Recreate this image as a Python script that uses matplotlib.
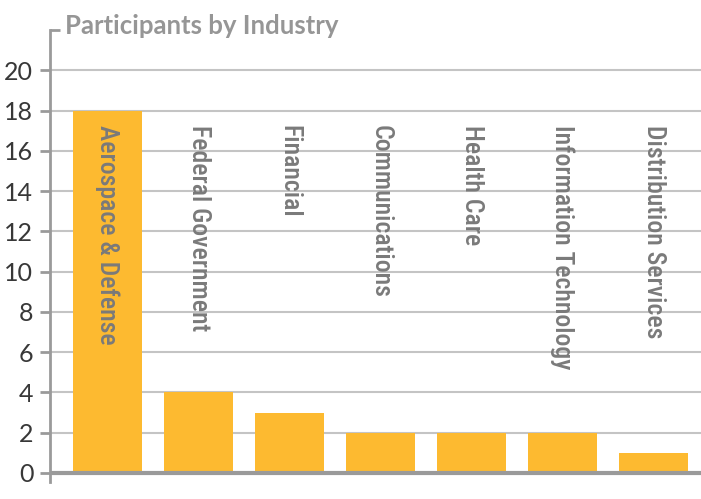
import matplotlib
matplotlib.use("Agg")
import matplotlib.pyplot as plt
from matplotlib import font_manager

industries = ["Aerospace & Defense", "Federal Government", "Financial",
              "Communications", "Health Care", "Information Technology",
              "Distribution Services"]
participants = [18, 4, 3, 2, 2, 2, 1]
y_ticks = [0, 2, 4, 6, 8, 10, 12, 14, 16, 18, 20]

# Prefer a condensed face for the category labels when one is installed
installed = {f.name for f in font_manager.fontManager.ttflist}
label_font = "Roboto"
for cand in ["Roboto Condensed", "Open Sans Condensed", "Liberation Sans Narrow",
             "DejaVu Sans Condensed", "Noto Sans Condensed"]:
    if cand in installed:
        label_font = cand
        break

BAR = "#FDBA30"
GRID = "#C4C4C4"
AXIS = "#9A9A9A"
LABEL = "#7A7A7A"

fig = plt.figure(figsize=(7.01, 4.99), dpi=100)
ax = fig.add_axes([50 / 701, 17 / 499, 651 / 701, 452 / 499])

x = list(range(len(industries)))
ax.bar(x, participants, width=0.76, color=BAR, zorder=2)
ax.set_xlim(-0.632, 6.52)
ax.set_ylim(-0.45, 22)

for v in y_ticks[1:]:
    ax.axhline(v, color=GRID, lw=1.5, zorder=1)
ax.axhline(0, color=AXIS, lw=3, zorder=3)

for s in ["top", "right", "bottom"]:
    ax.spines[s].set_visible(False)
ax.spines["left"].set_color(AXIS)
ax.spines["left"].set_linewidth(2)
ax.plot([0, 10 / 651], [1, 1], transform=ax.transAxes, color=AXIS, lw=2,
        clip_on=False, solid_capstyle="butt")

ax.set_xticks([])
ax.set_yticks(y_ticks)
ax.tick_params(axis="y", length=7, width=2, color=AXIS, pad=5,
               labelsize=18, labelcolor="#383838")
for t in ax.get_yticklabels():
    t.set_fontfamily("Lato")
    t.set_fontweight("normal")

# Size the category labels so the longest bar label spans ~220 px
labels = []
for xi, name in zip(x, industries):
    labels.append(ax.text(xi, 17.3, name, rotation=-90, ha="left", va="center",
                          rotation_mode="anchor", fontsize=15, color=LABEL,
                          fontfamily=label_font, fontweight="medium", zorder=4))
renderer = fig.canvas.get_renderer()
h = labels[0].get_window_extent(renderer).height
size = 15 * 220 / h
for t in labels:
    t.set_fontsize(size)

fig.text(65 / 701, (499 - 34) / 499, "Participants by Industry",
         fontsize=18.5, fontweight="bold", color="#969696",
         fontfamily="Lato", va="baseline", ha="left")

fig.savefig("out.png", dpi=100)
